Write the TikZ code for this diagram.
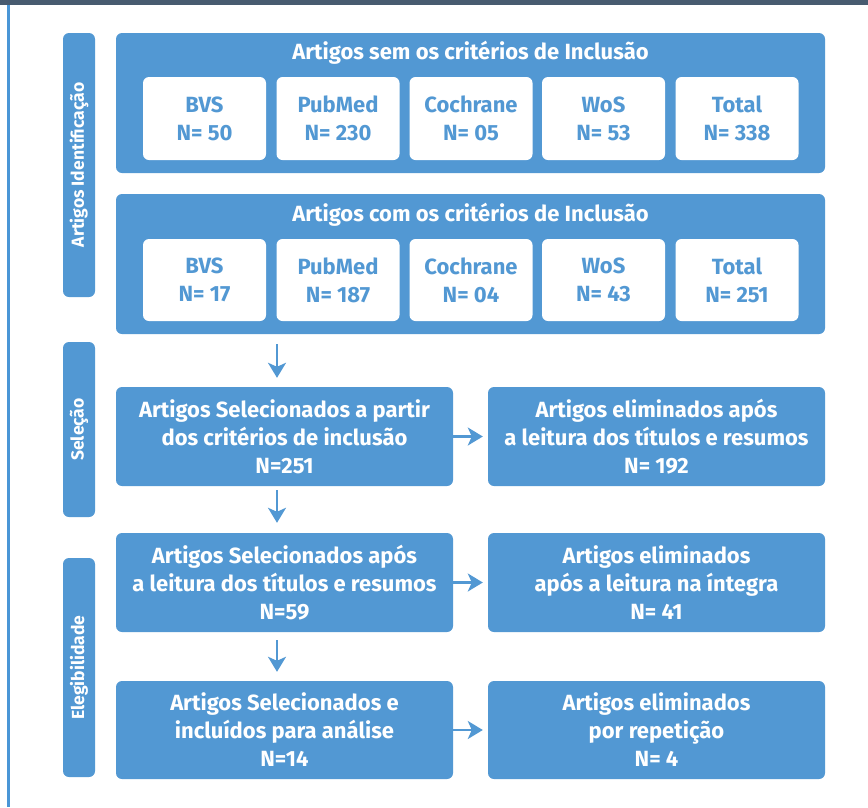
\documentclass[tikz,border=0pt]{standalone}
\usepackage{fontspec}
\setmainfont{Fira Sans}
\usetikzlibrary{arrows.meta,calc}
\definecolor{boxblue}{HTML}{5298D3}
\definecolor{topband}{HTML}{485B70}
\definecolor{edgeblue}{HTML}{4A96D6}
\tikzset{
  bigbox/.style={fill=boxblue, rounded corners=6pt, minimum width=709pt, minimum height=140pt, inner sep=0pt},
  innerbox/.style={fill=white, rounded corners=6pt, minimum width=123pt, inner sep=0pt, text=boxblue,
     font=\fontsize{22pt}{28pt}\selectfont\bfseries, align=center},
  sidebox/.style={fill=boxblue, rounded corners=6pt, minimum height=32pt, inner sep=0pt, text=white,
     font=\fontsize{17.5pt}{20pt}\selectfont\bfseries, rotate=90},
  flowbox/.style={fill=boxblue, rounded corners=6pt, minimum width=337pt, inner sep=0pt, text=white,
     font=\fontsize{22pt}{28pt}\selectfont\bfseries, align=center},
  headtext/.style={text=white, font=\fontsize{22pt}{24pt}\selectfont\bfseries, inner sep=0pt},
  arr/.style={draw=boxblue, line width=2.2pt, -{Stealth[width=18pt,length=15pt,inset=4pt]}}
}
\begin{document}
\begin{tikzpicture}[x=1pt,y=-1pt]
\useasboundingbox (0,0) rectangle (868,807);
\fill[white] (0,0) rectangle (868,807);
\fill[topband] (0,0) rectangle (868,5);
\fill[edgeblue] (7,5) rectangle (10,807);

% side labels
\node[sidebox, minimum width=264pt] (sid) at (79,165) {Artigos Identificação};
\node[sidebox, minimum width=175pt] (ssel) at (79,429.5) {Seleção};
\node[sidebox, minimum width=219pt] (seleg) at (79,667.5) {Elegibilidade};

% big boxes
\node[bigbox] (big1) at (470.5,103) {};
\node[bigbox] (big2) at (470.5,264) {};
\node[headtext] (h1) at (470.5,53) {Artigos sem os critérios de Inclusão};
\node[headtext] (h2) at (470.5,215) {Artigos com os critérios de Inclusão};

% row 1
\node[innerbox, minimum height=83pt] (a1) at (204.5,118.5) {BVS\\N= 50};
\node[innerbox, minimum height=83pt] (a2) at (338,118.5) {PubMed\\N= 230};
\node[innerbox, minimum height=83pt] (a3) at (471,118.5) {Cochrane\\N= 05};
\node[innerbox, minimum height=83pt] (a4) at (603.5,118.5) {WoS\\N= 53};
\node[innerbox, minimum height=83pt] (a5) at (737,118.5) {Total\\N= 338};

% row 2
\node[innerbox, minimum height=82pt] (b1) at (204.5,280) {BVS\\N= 17};
\node[innerbox, minimum height=82pt] (b2) at (338,280) {PubMed\\N= 187};
\node[innerbox, minimum height=82pt] (b3) at (471,280) {Cochrane\\N= 04};
\node[innerbox, minimum height=82pt] (b4) at (603.5,280) {WoS\\N= 43};
\node[innerbox, minimum height=82pt] (b5) at (737,280) {Total\\N= 251};

% flow
\node[flowbox, minimum height=99pt] (f1) at (284.5,436.5) {Artigos Selecionados a partir\\dos critérios de inclusão\\N=251};
\node[flowbox, minimum height=99pt] (r1) at (656.5,436.5) {Artigos eliminados após\\a leitura dos títulos e resumos\\N= 192};
\node[flowbox, minimum height=99pt] (f2) at (284.5,582.5) {Artigos Selecionados após\\a leitura dos títulos e resumos\\N=59};
\node[flowbox, minimum height=99pt] (r2) at (656.5,582.5) {Artigos eliminados\\após a leitura na íntegra\\N= 41};
\node[flowbox, minimum height=98pt] (f3) at (284.5,730) {Artigos Selecionados e\\incluídos para análise\\N=14};
\node[flowbox, minimum height=98pt] (r3) at (656.5,730) {Artigos eliminados\\por repetição\\N= 4};

% arrows
\draw[arr, shorten <=10pt, shorten >=9pt] ([xshift=-7.5pt]f1.north |- big2.south) -- ([xshift=-7.5pt]f1.north);
\draw[arr, shorten <=4pt, shorten >=10pt] ([xshift=-7.5pt]f1.south) -- ([xshift=-7.5pt]f2.north);
\draw[arr, shorten <=8pt, shorten >=9pt] ([xshift=-7.5pt]f2.south) -- ([xshift=-7.5pt]f3.north);
\draw[arr, shorten >=5pt] (f1.east) -- (r1.west);
\draw[arr, shorten >=5pt] (f2.east) -- (r2.west);
\draw[arr, shorten >=5pt] (f3.east) -- (r3.west);
\end{tikzpicture}
\end{document}
